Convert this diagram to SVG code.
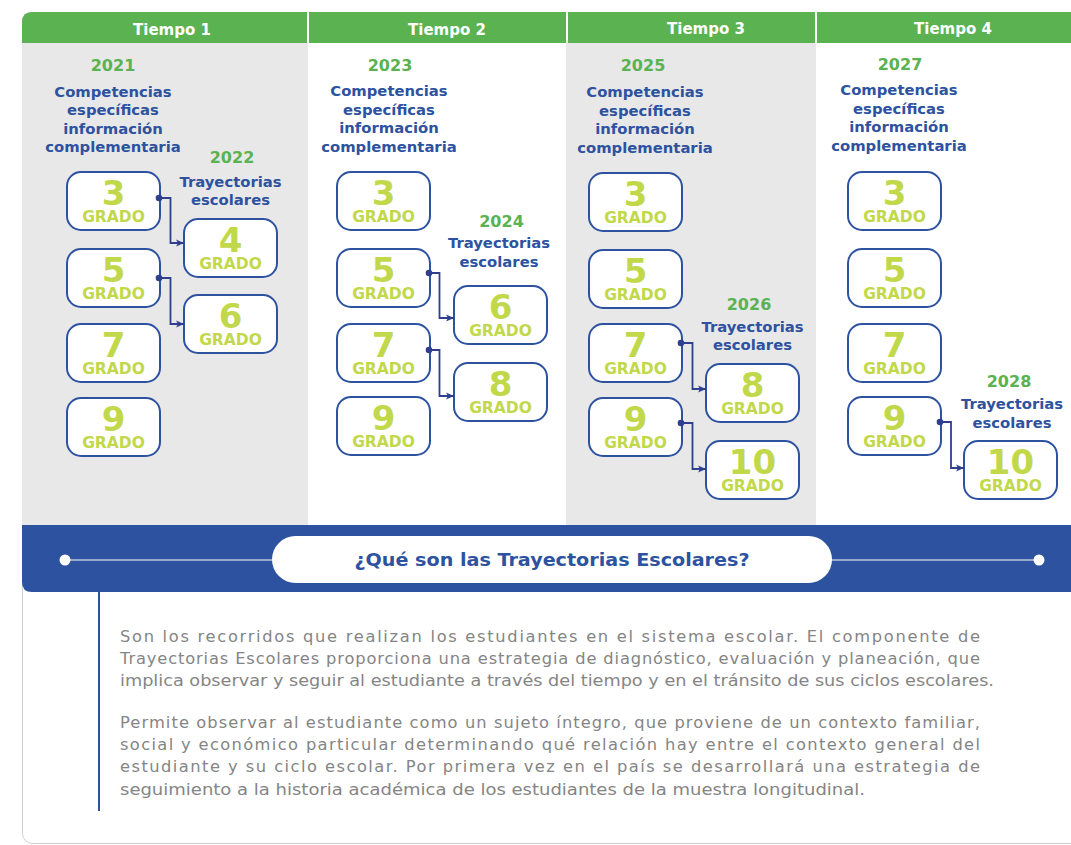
<svg xmlns="http://www.w3.org/2000/svg" width="1071" height="845" viewBox="0 0 1071 845">
<defs>
<style>
.nb{fill:#fff;stroke:#2d52a0;stroke-width:2}
.num{font-family:"DejaVu Sans",sans-serif;font-weight:bold;font-size:34px;fill:#c2d84b;text-anchor:middle}
.gr{font-family:"DejaVu Sans",sans-serif;font-weight:bold;font-size:15.5px;fill:#c2d84b;text-anchor:middle}
.yr{font-family:"DejaVu Sans",sans-serif;font-weight:bold;font-size:16px;fill:#5ab250;text-anchor:middle}
.lb{font-family:"DejaVu Sans",sans-serif;font-weight:bold;font-size:14.8px;fill:#2d52a0;text-anchor:middle}
.hd{font-family:"DejaVu Sans",sans-serif;font-weight:bold;font-size:15px;fill:#fff;text-anchor:middle}
.pa{font-family:"DejaVu Sans",sans-serif;font-size:16.3px;fill:#858585}
.cn{fill:none;stroke:#2e3f8f;stroke-width:1.8}
.dot{fill:#2e3f8f}
</style>
<marker id="ar" markerUnits="userSpaceOnUse" markerWidth="9" markerHeight="9" refX="8" refY="4.5" orient="auto">
<path d="M0,1 L8,4.5 L0,8 L2,4.5 z" fill="#2e3f8f"/>
</marker>
</defs>
<rect x="0" y="0" width="1071" height="845" fill="#fff"/>
<g id="frame">
<rect x="22.5" y="12.5" width="1100" height="831" rx="10" fill="none" stroke="#cfcfcf" stroke-width="1"/>
<rect x="22" y="43" width="286" height="482" fill="#e8e8e8"/>
<rect x="566" y="43" width="250" height="482" fill="#e8e8e8"/>
<path d="M22,43 V22 Q22,12 32,12 H1071 V43 Z" fill="#5ab250"/>
<rect x="307" y="12" width="2" height="31" fill="#fff"/>
<rect x="566" y="12" width="2" height="31" fill="#fff"/>
<rect x="815" y="12" width="2" height="31" fill="#fff"/>
<text class="hd" x="172" y="35">Tiempo 1</text>
<text class="hd" x="447" y="35">Tiempo 2</text>
<text class="hd" x="706" y="34">Tiempo 3</text>
<text class="hd" x="953" y="34">Tiempo 4</text>
</g>
<g id="labels">
<text class="yr" x="113" y="70.5">2021</text>
<text class="lb" x="113" y="96.5">Competencias</text>
<text class="lb" x="113" y="115">específicas</text>
<text class="lb" x="113" y="133.5">información</text>
<text class="lb" x="113" y="152">complementaria</text>
<text class="yr" x="232" y="162.5">2022</text>
<text class="lb" x="230.5" y="187">Trayectorias</text>
<text class="lb" x="230.5" y="205">escolares</text>

<text class="yr" x="390" y="70.5">2023</text>
<text class="lb" x="389" y="96">Competencias</text>
<text class="lb" x="389" y="114.5">específicas</text>
<text class="lb" x="389" y="133">información</text>
<text class="lb" x="389" y="151.5">complementaria</text>
<text class="yr" x="501.5" y="227">2024</text>
<text class="lb" x="499" y="247.5">Trayectorias</text>
<text class="lb" x="499" y="266.5">escolares</text>

<text class="yr" x="643" y="70.5">2025</text>
<text class="lb" x="645" y="97">Competencias</text>
<text class="lb" x="645" y="115.5">específicas</text>
<text class="lb" x="645" y="134">información</text>
<text class="lb" x="645" y="152.5">complementaria</text>
<text class="yr" x="749" y="309.5">2026</text>
<text class="lb" x="752.5" y="332">Trayectorias</text>
<text class="lb" x="752.5" y="350">escolares</text>

<text class="yr" x="900" y="70">2027</text>
<text class="lb" x="899" y="95">Competencias</text>
<text class="lb" x="899" y="113.5">específicas</text>
<text class="lb" x="899" y="132">información</text>
<text class="lb" x="899" y="150.5">complementaria</text>
<text class="yr" x="1009" y="387">2028</text>
<text class="lb" x="1012" y="409">Trayectorias</text>
<text class="lb" x="1012" y="427.5">escolares</text>
</g>
<g id="n1_3" transform="translate(67,172)"><rect class="nb" width="93" height="58" rx="14"/><text class="num" x="46.5" y="33">3</text><text class="gr" x="46.5" y="50">GRADO</text></g>
<g id="n1_5" transform="translate(67,249)"><rect class="nb" width="93" height="58" rx="14"/><text class="num" x="46.5" y="33">5</text><text class="gr" x="46.5" y="50">GRADO</text></g>
<g id="n1_7" transform="translate(67,324)"><rect class="nb" width="93" height="58" rx="14"/><text class="num" x="46.5" y="33">7</text><text class="gr" x="46.5" y="50">GRADO</text></g>
<g id="n1_9" transform="translate(67,398)"><rect class="nb" width="93" height="58" rx="14"/><text class="num" x="46.5" y="33">9</text><text class="gr" x="46.5" y="50">GRADO</text></g>
<g id="n1_4" transform="translate(184,219)"><rect class="nb" width="93" height="58" rx="14"/><text class="num" x="46.5" y="33">4</text><text class="gr" x="46.5" y="50">GRADO</text></g>
<g id="n1_6" transform="translate(184,295)"><rect class="nb" width="93" height="58" rx="14"/><text class="num" x="46.5" y="33">6</text><text class="gr" x="46.5" y="50">GRADO</text></g>

<g id="n2_3" transform="translate(337,172)"><rect class="nb" width="93" height="58" rx="14"/><text class="num" x="46.5" y="33">3</text><text class="gr" x="46.5" y="50">GRADO</text></g>
<g id="n2_5" transform="translate(337,249)"><rect class="nb" width="93" height="58" rx="14"/><text class="num" x="46.5" y="33">5</text><text class="gr" x="46.5" y="50">GRADO</text></g>
<g id="n2_7" transform="translate(337,324)"><rect class="nb" width="93" height="58" rx="14"/><text class="num" x="46.5" y="33">7</text><text class="gr" x="46.5" y="50">GRADO</text></g>
<g id="n2_9" transform="translate(337,397)"><rect class="nb" width="93" height="58" rx="14"/><text class="num" x="46.5" y="33">9</text><text class="gr" x="46.5" y="50">GRADO</text></g>
<g id="n2_6" transform="translate(454,286)"><rect class="nb" width="93" height="58" rx="14"/><text class="num" x="46.5" y="33">6</text><text class="gr" x="46.5" y="50">GRADO</text></g>
<g id="n2_8" transform="translate(454,363)"><rect class="nb" width="93" height="58" rx="14"/><text class="num" x="46.5" y="33">8</text><text class="gr" x="46.5" y="50">GRADO</text></g>

<g id="n3_3" transform="translate(589,173)"><rect class="nb" width="93" height="58" rx="14"/><text class="num" x="46.5" y="33">3</text><text class="gr" x="46.5" y="50">GRADO</text></g>
<g id="n3_5" transform="translate(589,250)"><rect class="nb" width="93" height="58" rx="14"/><text class="num" x="46.5" y="33">5</text><text class="gr" x="46.5" y="50">GRADO</text></g>
<g id="n3_7" transform="translate(589,324)"><rect class="nb" width="93" height="58" rx="14"/><text class="num" x="46.5" y="33">7</text><text class="gr" x="46.5" y="50">GRADO</text></g>
<g id="n3_9" transform="translate(589,398)"><rect class="nb" width="93" height="58" rx="14"/><text class="num" x="46.5" y="33">9</text><text class="gr" x="46.5" y="50">GRADO</text></g>
<g id="n3_8" transform="translate(706,364)"><rect class="nb" width="93" height="58" rx="14"/><text class="num" x="46.5" y="33">8</text><text class="gr" x="46.5" y="50">GRADO</text></g>
<g id="n3_10" transform="translate(706,441)"><rect class="nb" width="93" height="58" rx="14"/><text class="num" x="46.5" y="33">10</text><text class="gr" x="46.5" y="50">GRADO</text></g>

<g id="n4_3" transform="translate(848,172)"><rect class="nb" width="93" height="58" rx="14"/><text class="num" x="46.5" y="33">3</text><text class="gr" x="46.5" y="50">GRADO</text></g>
<g id="n4_5" transform="translate(848,249)"><rect class="nb" width="93" height="58" rx="14"/><text class="num" x="46.5" y="33">5</text><text class="gr" x="46.5" y="50">GRADO</text></g>
<g id="n4_7" transform="translate(848,324)"><rect class="nb" width="93" height="58" rx="14"/><text class="num" x="46.5" y="33">7</text><text class="gr" x="46.5" y="50">GRADO</text></g>
<g id="n4_9" transform="translate(848,397)"><rect class="nb" width="93" height="58" rx="14"/><text class="num" x="46.5" y="33">9</text><text class="gr" x="46.5" y="50">GRADO</text></g>
<g id="n4_10" transform="translate(964,441)"><rect class="nb" width="93" height="58" rx="14"/><text class="num" x="46.5" y="33">10</text><text class="gr" x="46.5" y="50">GRADO</text></g>

<g id="connectors">
<path class="cn" d="M159,198 H170.5 V243 H184" marker-end="url(#ar)"/>
<path class="cn" d="M159,278 H170.5 V324 H184" marker-end="url(#ar)"/>
<path class="cn" d="M429,273 H439.5 V318 H454" marker-end="url(#ar)"/>
<path class="cn" d="M429,350 H439.5 V396 H454" marker-end="url(#ar)"/>
<path class="cn" d="M681,343 H692.5 V389 H706" marker-end="url(#ar)"/>
<path class="cn" d="M681,423 H692.5 V469 H706" marker-end="url(#ar)"/>
<path class="cn" d="M940,422 H951 V468 H964" marker-end="url(#ar)"/>
<circle class="dot" cx="159" cy="198" r="3.3"/>
<circle class="dot" cx="159" cy="278" r="3.3"/>
<circle class="dot" cx="429" cy="273" r="3.3"/>
<circle class="dot" cx="429" cy="350" r="3.3"/>
<circle class="dot" cx="681" cy="343" r="3.3"/>
<circle class="dot" cx="681" cy="423" r="3.3"/>
<circle class="dot" cx="940" cy="422" r="3.3"/>
</g>
<g id="banner">
<path d="M22,525 H1071 V592 H32 Q22,592 22,582 Z" fill="#2d52a0"/>
<line x1="65" y1="560" x2="275" y2="560" stroke="#fff" stroke-width="1.2"/>
<line x1="830" y1="560" x2="1039" y2="560" stroke="#fff" stroke-width="1.2"/>
<circle cx="65" cy="560" r="5.5" fill="#fff"/>
<circle cx="1039" cy="560" r="5.5" fill="#fff"/>
<rect x="272" y="536" width="560" height="47" rx="23.5" fill="#fff"/>
<text x="552" y="566" font-family="DejaVu Sans, sans-serif" font-weight="bold" font-size="18" fill="#2d52a0" text-anchor="middle" textLength="395" lengthAdjust="spacingAndGlyphs">¿Qué son las Trayectorias Escolares?</text>
</g>
<g id="description">
<line x1="99" y1="592" x2="99" y2="811" stroke="#2d52a0" stroke-width="2"/>
<text class="pa" x="120" y="642" textLength="860" lengthAdjust="spacing">Son los recorridos que realizan los estudiantes en el sistema escolar. El componente de</text>
<text class="pa" x="120" y="664" textLength="860" lengthAdjust="spacing">Trayectorias Escolares proporciona una estrategia de diagnóstico, evaluación y planeación, que</text>
<text class="pa" x="120" y="686" textLength="874" lengthAdjust="spacingAndGlyphs">implica observar y seguir al estudiante a través del tiempo y en el tránsito de sus ciclos escolares.</text>
<text class="pa" x="120" y="728" textLength="860" lengthAdjust="spacing">Permite observar al estudiante como un sujeto íntegro, que proviene de un contexto familiar,</text>
<text class="pa" x="120" y="750" textLength="860" lengthAdjust="spacing">social y económico particular determinando qué relación hay entre el contexto general del</text>
<text class="pa" x="120" y="772" textLength="860" lengthAdjust="spacing">estudiante y su ciclo escolar. Por primera vez en el país se desarrollará una estrategia de</text>
<text class="pa" x="120" y="795" textLength="745" lengthAdjust="spacingAndGlyphs">seguimiento a la historia académica de los estudiantes de la muestra longitudinal.</text>
</g>
</svg>
